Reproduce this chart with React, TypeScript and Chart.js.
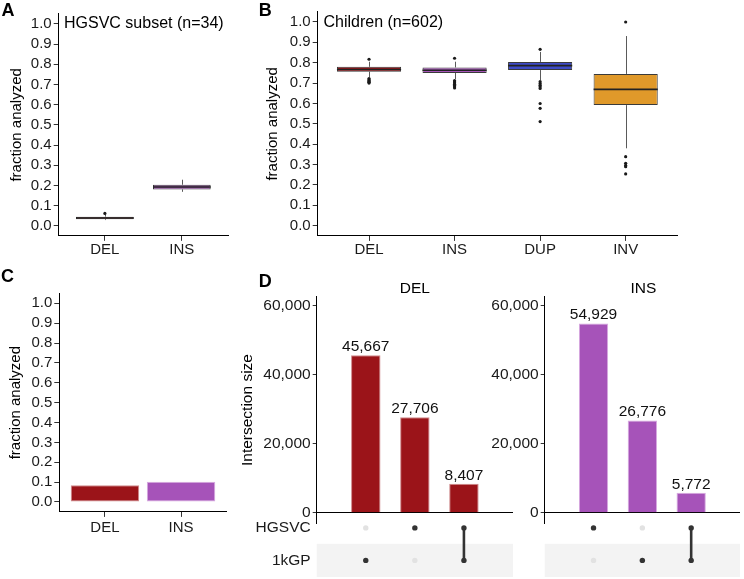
import React, { useEffect, useRef } from 'react';
import { Chart, registerables } from 'chart.js';

Chart.register(...registerables);

const FONT = "'Liberation Sans', Arial, Helvetica, sans-serif";
Chart.defaults.font.family = FONT;

// ---------------- Data ----------------
const fractionTicks = [0.0, 0.1, 0.2, 0.3, 0.4, 0.5, 0.6, 0.7, 0.8, 0.9, 1.0];

// Panel A: HGSVC subset (n=34)
const aCategories = ['DEL', 'INS'];
const aLow = [0.028, 0.168];
const aQ1 = [0.032, 0.18];
const aMedian = [0.038, 0.192];
const aQ3 = [0.045, 0.203];
const aHigh = [0.055, 0.228];
const aOutliers = [[0.061], []];

// Panel B: Children (n=602)
const bCategories = ['DEL', 'INS', 'DUP', 'INV'];
const bLow = [0.728, 0.72, 0.715, 0.38];
const bQ1 = [0.756, 0.75, 0.764, 0.592];
const bMedian = [0.767, 0.763, 0.786, 0.669];
const bQ3 = [0.78, 0.777, 0.804, 0.745];
const bHigh = [0.805, 0.805, 0.853, 0.931];
const bOutliers = [
  [0.817, 0.722, 0.717, 0.712, 0.708, 0.704, 0.7],
  [0.822, 0.712, 0.706, 0.7, 0.694, 0.688, 0.682, 0.676],
  [0.866, 0.707, 0.698, 0.69, 0.682, 0.674, 0.6, 0.576, 0.511],
  [1.0, 0.339, 0.306, 0.296, 0.29, 0.254],
];

// Panel C
const cCategories = ['DEL', 'INS'];
const cValues = [0.084, 0.102];

// Panel D (upset)
const upsetSets = ['HGSVC', '1kGP'];
const countTicks = [0, 20000, 40000, 60000];
const delSizes = [45667, 27706, 8407];
const delMembership = [[0, 1], [1, 0], [1, 1]];
const insSizes = [54929, 26776, 5772];
const insMembership = [[1, 0], [0, 1], [1, 1]];

// ---------------- Styles ----------------
const typeColors: Record<string, string> = {
  DEL: '#9b1419',
  INS: '#a653b9',
  DUP: '#3d4ac6',
  INV: '#e0992a',
};
const typeBorders: Record<string, string> = {
  DEL: '#cf8a8c',
  INS: '#d7a9e0',
};
const TICK_COLOR = '#1a1a1a';

function baseOptions(padding: any) {
  return {
    responsive: false,
    animation: false,
    events: [],
    layout: { padding },
    plugins: {
      legend: { display: false },
      tooltip: { enabled: false },
      title: { display: false },
    },
  };
}

function fractionYAxis(axisWidth: number, titlePad: number) {
  return {
    type: 'linear',
    position: 'left',
    min: -0.05,
    max: 1.05,
    afterBuildTicks: (s: any) => {
      s.ticks = fractionTicks.map((v) => ({ value: v }));
    },
    ticks: {
      callback: (v: any) => Number(v).toFixed(1),
      font: { family: FONT, size: 15 },
      color: TICK_COLOR,
      padding: 2,
      autoSkip: false,
    },
    grid: { drawOnChartArea: false, tickLength: 5, color: '#333', lineWidth: 1 },
    border: { display: true, color: '#000', width: 1 },
    title: {
      display: true,
      text: 'fraction analyzed',
      font: { family: FONT, size: 15 },
      color: '#000',
      padding: { top: titlePad, bottom: 0 },
    },
    afterFit: (s: any) => {
      s.width = axisWidth;
      s.paddingTop = 0;
      s.paddingBottom = 0;
    },
  };
}

function categoryXAxis(cats: string[], axisHeight: number, labelPad: number) {
  return {
    type: 'linear',
    offset: false,
    min: 0.4,
    max: cats.length + 0.6,
    afterBuildTicks: (s: any) => {
      s.ticks = cats.map((_, i) => ({ value: i + 1 }));
    },
    ticks: {
      callback: (_v: any, i: number) => cats[i],
      font: { family: FONT, size: 15 },
      color: TICK_COLOR,
      padding: labelPad,
      autoSkip: false,
      maxRotation: 0,
    },
    grid: { offset: false, drawOnChartArea: false, tickLength: 5, color: '#333', lineWidth: 1 },
    border: { display: true, color: '#000', width: 1 },
    afterFit: (s: any) => {
      s.height = axisHeight;
      s.paddingLeft = 0;
      s.paddingRight = 0;
    },
  };
}

function boxPartsPlugin(low: number[], med: number[], high: number[], q1: number[], q3: number[]) {
  return {
    id: 'boxParts',
    beforeDatasetsDraw(chart: any) {
      const meta = chart.getDatasetMeta(0);
      const y = chart.scales.y;
      const ctx = chart.ctx;
      ctx.save();
      ctx.strokeStyle = '#5a5a5a';
      ctx.lineWidth = 1;
      meta.data.forEach((el: any, i: number) => {
        const x = Math.round(el.x) + 0.5;
        ctx.beginPath();
        ctx.moveTo(x, y.getPixelForValue(high[i]));
        ctx.lineTo(x, y.getPixelForValue(q3[i]));
        ctx.moveTo(x, y.getPixelForValue(q1[i]));
        ctx.lineTo(x, y.getPixelForValue(low[i]));
        ctx.stroke();
      });
      ctx.restore();
    },
    afterDatasetsDraw(chart: any) {
      const meta = chart.getDatasetMeta(0);
      const y = chart.scales.y;
      const ctx = chart.ctx;
      ctx.save();
      ctx.strokeStyle = '#222';
      ctx.lineWidth = 1.6;
      meta.data.forEach((el: any, i: number) => {
        const py = y.getPixelForValue(med[i]);
        ctx.beginPath();
        ctx.moveTo(el.x - el.width / 2, py);
        ctx.lineTo(el.x + el.width / 2, py);
        ctx.stroke();
      });
      ctx.restore();
    },
  };
}

function boxChartConfig(
  cats: string[], low: number[], q1: number[], med: number[], q3: number[], high: number[],
  outliers: number[][], g: any,
) {
  return {
    type: 'bar',
    data: {
      datasets: [
        {
          type: 'bar',
          data: cats.map((_, i) => ({ x: i + 1, y: [q1[i], q3[i]] })),
          backgroundColor: cats.map((c) => typeColors[c]),
          borderColor: '#3a3a3a',
          borderWidth: 1,
          borderSkipped: false,
          barPercentage: 0.75,
          categoryPercentage: 1,
        },
        {
          type: 'line',
          data: outliers.flatMap((vals, i) => vals.map((v) => ({ x: i + 1, y: v }))),
          showLine: false,
          pointRadius: 1.6,
          pointBackgroundColor: '#1a1a1a',
          pointBorderWidth: 0,
        },
      ],
    },
    options: {
      ...baseOptions(g.padding),
      scales: {
        x: categoryXAxis(cats, g.xHeight, g.xPad),
        y: fractionYAxis(g.yWidth, g.titlePad),
      },
    },
    plugins: [boxPartsPlugin(low, med, high, q1, q3)],
  };
}

function barChartConfig(cats: string[], values: number[], g: any) {
  return {
    type: 'bar',
    data: {
      datasets: [
        {
          data: cats.map((_, i) => ({ x: i + 1, y: values[i] })),
          backgroundColor: cats.map((c) => typeColors[c]),
          borderColor: cats.map((c) => typeBorders[c]),
          borderWidth: 1,
          borderSkipped: false,
          barPercentage: 0.9,
          categoryPercentage: 1,
        },
      ],
    },
    options: {
      ...baseOptions(g.padding),
      scales: {
        x: categoryXAxis(cats, g.xHeight, g.xPad),
        y: fractionYAxis(g.yWidth, g.titlePad),
      },
    },
  };
}

function upsetConfig(sizes: number[], membership: number[][], type: string, g: any) {
  const rowValue = (s: number) => upsetSets.length - 1 - s;
  const dots = membership.flatMap((m, i) =>
    m.map((inSet, s) => ({ x: i + 1, y: rowValue(s), inSet })),
  );
  const segments = membership
    .map((m, i) => {
      const rows = m.map((v, s) => (v ? rowValue(s) : null)).filter((v) => v !== null) as number[];
      return rows.length > 1
        ? [{ x: i + 1, y: Math.max(...rows) }, { x: i + 1, y: Math.min(...rows) }]
        : null;
    })
    .filter(Boolean) as any[];

  const labelsPlugin = {
    id: 'barLabels',
    afterDatasetsDraw(chart: any) {
      const meta = chart.getDatasetMeta(0);
      const ctx = chart.ctx;
      ctx.save();
      ctx.font = `15.5px ${FONT}`;
      ctx.fillStyle = '#111';
      ctx.textAlign = 'center';
      ctx.textBaseline = 'alphabetic';
      meta.data.forEach((el: any, i: number) => {
        ctx.fillText(sizes[i].toLocaleString('en-US'), el.x, el.y - 4);
      });
      ctx.restore();
    },
  };
  const bandPlugin = {
    id: 'band',
    beforeDatasetsDraw(chart: any) {
      const ym = chart.scales.ym;
      const { left, right } = chart.chartArea;
      const ctx = chart.ctx;
      ctx.save();
      ctx.fillStyle = '#f3f3f3';
      upsetSets.forEach((_, s) => {
        if (s % 2 === 1) {
          const t = ym.getPixelForValue(rowValue(s) + 0.51);
          const b = ym.getPixelForValue(rowValue(s) - 0.51);
          ctx.fillRect(left, t, right - left, b - t);
        }
      });
      ctx.restore();
    },
  };

  return {
    type: 'bar',
    data: {
      datasets: [
        {
          type: 'bar',
          yAxisID: 'y',
          data: sizes.map((v, i) => ({ x: i + 1, y: v })),
          backgroundColor: typeColors[type],
          borderColor: typeBorders[type],
          borderWidth: 1,
          borderSkipped: 'start',
          barPercentage: 0.6,
          categoryPercentage: 1,
        },
        {
          type: 'line',
          yAxisID: 'ym',
          data: dots.map((d) => ({ x: d.x, y: d.y })),
          showLine: false,
          pointRadius: 2.7,
          pointBorderWidth: 0,
          pointBackgroundColor: dots.map((d) => (d.inSet ? '#333333' : '#e2e2e2')),
        },
        ...segments.map((seg) => ({
          type: 'line',
          yAxisID: 'ym',
          data: seg,
          showLine: true,
          borderColor: '#333333',
          borderWidth: 2.6,
          pointRadius: 0,
        })),
      ],
    },
    options: {
      ...baseOptions(g.padding),
      scales: {
        x: {
          type: 'linear',
          offset: false,
          grid: { offset: false },
          min: 0,
          max: sizes.length + 1,
          display: false,
          afterBuildTicks: (s: any) => {
            s.ticks = sizes.map((_, i) => ({ value: i + 1 }));
          },
        },
        ym: {
          type: 'linear',
          position: 'left',
          stack: 'upset',
          stackWeight: 54,
          weight: 0,
          min: -0.51,
          max: 1.14,
          afterBuildTicks: (s: any) => {
            s.ticks = upsetSets.map((_, i) => ({ value: rowValue(i) }));
          },
          ticks: {
            display: g.showSets,
            callback: (v: any) => upsetSets[upsetSets.length - 1 - Number(v)],
            font: { family: FONT, size: 15.5 },
            color: TICK_COLOR,
            padding: 6,
            autoSkip: false,
          },
          grid: { display: false, drawTicks: false },
          border: { display: false },
          afterFit: (s: any) => {
            s.width = g.yWidth;
            s.paddingTop = 0;
            s.paddingBottom = 0;
          },
        },
        y: {
          type: 'linear',
          position: 'left',
          stack: 'upset',
          stackWeight: 228,
          weight: 1,
          min: -3087,
          max: 62683,
          afterBuildTicks: (s: any) => {
            s.ticks = countTicks.map((v) => ({ value: v }));
          },
          ticks: {
            callback: (v: any) => Number(v).toLocaleString('en-US'),
            font: { family: FONT, size: 15.5 },
            color: TICK_COLOR,
            padding: 2,
            autoSkip: false,
          },
          grid: {
            drawOnChartArea: true,
            tickLength: 4,
            color: (ctx: any) => (ctx.tick && ctx.tick.value === 0 ? '#000' : 'rgba(0,0,0,0)'),
            tickColor: '#333',
            lineWidth: 1,
          },
          border: { display: true, color: '#000', width: 1 },
          title: {
            display: g.showTitle,
            text: 'Intersection size',
            font: { family: FONT, size: 15.5 },
            color: '#000',
            padding: { top: g.titlePad, bottom: 0 },
          },
          afterFit: (s: any) => {
            s.width = g.yWidth;
            s.paddingTop = 0;
            s.paddingBottom = 0;
          },
        },
      },
    },
    plugins: [bandPlugin, labelsPlugin],
  };
}

// ---------------- Components ----------------
function ChartCanvas({ left, top, width, height, makeConfig }: any) {
  const ref = useRef<HTMLCanvasElement | null>(null);
  useEffect(() => {
    if (!ref.current) return;
    const chart = new Chart(ref.current, makeConfig() as any);
    return () => chart.destroy();
  }, []);
  return (
    <canvas
      ref={ref}
      width={width}
      height={height}
      style={{ position: 'absolute', left, top, width, height }}
    />
  );
}

function Label({ text, x, cy, size, bold, center }: any) {
  return (
    <div
      style={{
        position: 'absolute',
        left: x,
        top: cy - size * 0.49,
        fontSize: size,
        lineHeight: `${size}px`,
        fontWeight: bold ? 700 : 400,
        fontFamily: FONT,
        whiteSpace: 'nowrap',
        color: '#000',
        transform: center ? 'translateX(-50%)' : undefined,
      }}
    >
      {text}
    </div>
  );
}

export default function App() {
  return (
    <div
      style={{
        position: 'fixed',
        left: 0,
        top: 0,
        width: 744,
        height: 579,
        background: '#fff',
        overflow: 'hidden',
      }}
    >
      <ChartCanvas
        left={0}
        top={0}
        width={240}
        height={270}
        makeConfig={() =>
          boxChartConfig(aCategories, aLow, aQ1, aMedian, aQ3, aHigh, aOutliers, {
            padding: { left: 0, top: 13.9, right: 12, bottom: 0 },
            yWidth: 58.7,
            xHeight: 34.2,
            xPad: 0,
            titlePad: 7.7,
          })
        }
      />
      <ChartCanvas
        left={240}
        top={0}
        width={504}
        height={270}
        makeConfig={() =>
          boxChartConfig(bCategories, bLow, bQ1, bMedian, bQ3, bHigh, bOutliers, {
            padding: { left: 0, top: 11.8, right: 67, bottom: 0 },
            yWidth: 77.7,
            xHeight: 34.1,
            xPad: 0,
            titlePad: 23.5,
          })
        }
      />
      <ChartCanvas
        left={0}
        top={280}
        width={240}
        height={262}
        makeConfig={() =>
          barChartConfig(cCategories, cValues, {
            padding: { left: 0, top: 13.4, right: 13.3, bottom: 0 },
            yWidth: 59.3,
            xHeight: 30.1,
            xPad: 2,
            titlePad: 6.5,
          })
        }
      />
      <ChartCanvas
        left={232}
        top={286}
        width={290}
        height={295}
        makeConfig={() =>
          upsetConfig(delSizes, delMembership, 'DEL', {
            padding: { left: 0, top: 10.7, right: 9, bottom: 2.3 },
            yWidth: 84.7,
            showSets: true,
            showTitle: true,
            titlePad: 6,
          })
        }
      />
      <ChartCanvas
        left={484}
        top={286}
        width={260}
        height={295}
        makeConfig={() =>
          upsetConfig(insSizes, insMembership, 'INS', {
            padding: { left: 0, top: 10.7, right: 2, bottom: 2.3 },
            yWidth: 60.7,
            showSets: false,
            showTitle: false,
            titlePad: 0,
          })
        }
      />

      <Label text="A" x={1.5} cy={10.3} size={18} bold />
      <Label text="B" x={258.7} cy={10} size={18} bold />
      <Label text="C" x={1} cy={275.8} size={18} bold />
      <Label text="D" x={258.7} cy={281} size={18} bold />
      <Label text="HGSVC subset (n=34)" x={64} cy={22.8} size={16} />
      <Label text="Children (n=602)" x={323.5} cy={22} size={16} />
      <Label text="DEL" x={414.8} cy={287.5} size={15.5} center />
      <Label text="INS" x={643.3} cy={287.5} size={15.5} center />
    </div>
  );
}
